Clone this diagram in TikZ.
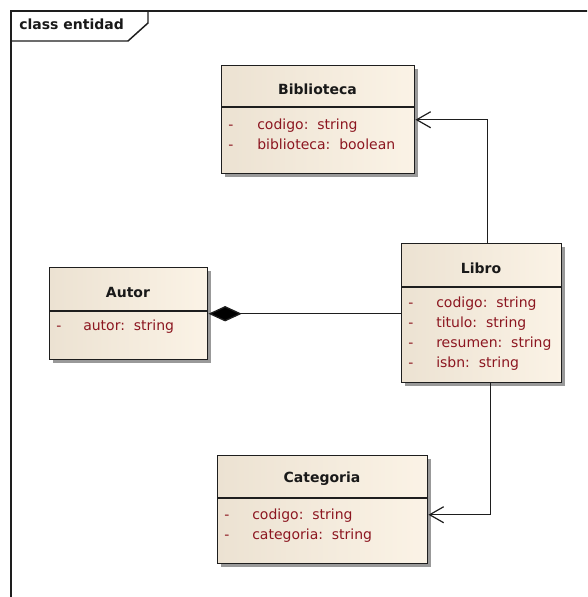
\documentclass[tikz,border=0pt]{standalone}
\usepackage{fontspec}
\setmainfont{DejaVu Sans}
\usetikzlibrary{arrows.meta,shadows}
\definecolor{boxL}{RGB}{236,226,210}
\definecolor{boxR}{RGB}{251,243,230}
\definecolor{attr}{RGB}{140,22,32}
\definecolor{edge}{RGB}{30,30,30}
\tikzset{
  classbox/.style={draw=edge, line width=1.1pt, left color=boxL, right color=boxR,
    inner sep=0pt, anchor=north west,
    drop shadow={shadow xshift=2.6pt, shadow yshift=-2.6pt, fill=black!40, opacity=1}},
  sepline/.style={draw=edge, line width=1.1pt},
  ctitle/.style={font=\bfseries\fontsize{10.5}{12}\selectfont, text=black!90, inner sep=0pt},
  dashmark/.style={font=\fontsize{10.5}{12}\selectfont, text=attr, anchor=mid west, inner sep=0pt},
  attrtext/.style={font=\fontsize{10.5}{12}\selectfont, text=attr, anchor=mid west, inner sep=0pt},
  link/.style={draw=edge, line width=1pt},
  navarrow/.style={link, -{Straight Barb[length=10.5pt, width=12pt, line width=0.9pt]}},
  composite/.style={link, {Diamond[length=25pt, width=11.5pt, fill=black]}-},
}
\begin{document}
\begin{tikzpicture}[x=0.75pt, y=-0.75pt]
  \useasboundingbox (0,0) rectangle (587,597);
  \fill[white] (0,0) rectangle (587,597);

  % package frame and its name tab
  \begin{scope}
    \clip (0,0) rectangle (587,597);
    \draw[edge, line width=1.1pt] (11,600) -- (11,11) -- (590,11);
    \draw[edge, line width=1.1pt] (11,41) -- (128,41) -- (148,23) -- (148,11);
  \end{scope}
  \node[ctitle, anchor=mid west] (frametitle) at (19,26) {class entidad};

  % Biblioteca
  \node[classbox, minimum width=144.75pt, minimum height=81pt] (bib) at (221,65) {};
  \draw[sepline] (bib.north west) ++(0,42) -- ++(193,0);
  \node[ctitle] (bibt) at (317.5,89) {Biblioteca};
  \node[dashmark] (bibd1) at (228,126) {-};
  \node[attrtext] (biba1) at (257,126) {codigo:\ \ string};
  \node[dashmark] (bibd2) at (228,146) {-};
  \node[attrtext] (biba2) at (257,146) {biblioteca:\ \ boolean};

  % Libro
  \node[classbox, minimum width=120pt, minimum height=104.25pt] (libro) at (401,243) {};
  \draw[sepline] (libro.north west) ++(0,44) -- ++(160,0);
  \node[ctitle] (librot) at (481,268) {Libro};
  \node[dashmark] (lid1) at (408,304) {-};
  \node[attrtext] (lia1) at (436,304) {codigo:\ \ string};
  \node[dashmark] (lid2) at (408,324) {-};
  \node[attrtext] (lia2) at (436,324) {titulo:\ \ string};
  \node[dashmark] (lid3) at (408,344) {-};
  \node[attrtext] (lia3) at (436,344) {resumen:\ \ string};
  \node[dashmark] (lid4) at (408,364) {-};
  \node[attrtext] (lia4) at (436,364) {isbn:\ \ string};

  % Autor
  \node[classbox, minimum width=118.5pt, minimum height=69pt] (autor) at (49,267) {};
  \draw[sepline] (autor.north west) ++(0,44) -- ++(158,0);
  \node[ctitle] (autort) at (128,292) {Autor};
  \node[dashmark] (aud1) at (56,327) {-};
  \node[attrtext] (aua1) at (83,327) {autor:\ \ string};

  % Categoria
  \node[classbox, minimum width=157.5pt, minimum height=81pt] (cat) at (217,455) {};
  \draw[sepline] (cat.north west) ++(0,43) -- ++(210,0);
  \node[ctitle] (catt) at (322,479) {Categoria};
  \node[dashmark] (catd1) at (224,516) {-};
  \node[attrtext] (cata1) at (252,516) {codigo:\ \ string};
  \node[dashmark] (catd2) at (224,536) {-};
  \node[attrtext] (cata2) at (252,536) {categoria:\ \ string};

  % associations
  \draw[navarrow] ([xshift=4.5pt]libro.north) |- (bib.east);
  \draw[navarrow] ([xshift=6.75pt]libro.south) |- ([yshift=-3.75pt]cat.east);
  \draw[composite] (autor.east) -- (autor.east -| libro.west);
\end{tikzpicture}
\end{document}
